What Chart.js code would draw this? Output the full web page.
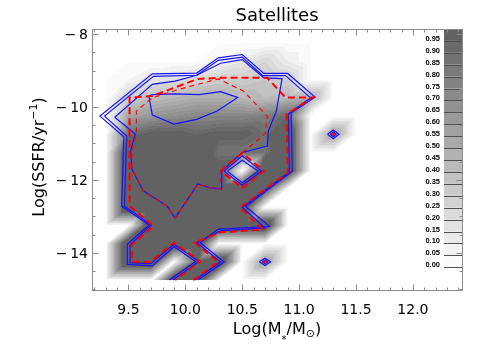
<!DOCTYPE html>
<html>
<head>
<meta charset="utf-8">
<script src="https://cdn.jsdelivr.net/npm/chart.js@4.4.1/dist/chart.umd.min.js"></script>
<style>
html, body { margin: 0; padding: 0; background: #fff; }
#wrap { width: 491px; height: 350px; }
</style>
</head>
<body>
<div id="wrap"><canvas id="myChart" width="491" height="350"></canvas></div>
<script>
// Nodos de la rejilla (masa en x, SSFR en y; fila 0 = arriba)
const massNodes = [9.1, 9.3, 9.5, 9.7, 9.9, 10.1, 10.3, 10.5, 10.7, 10.9, 11.1, 11.3, 11.5];
const ssfrNodes = [-8.25, -8.75, -9.25, -9.75, -10.25, -10.75, -11.25, -11.75, -12.25, -12.75, -13.25, -13.75, -14.25, -14.75];
const fraction = [
  [0, 0, 0,    0,    0,    0,    0,    0,    0,    0,    0,   0,   0],
  [0, 0, 0,    0,    0,    0,    0.05, 0.15, 0.25, 0.1,  0,   0,   0],
  [0, 0, 0.05, 0.15, 0.2,  0.25, 0.3,  0.3,  0.35, 0.3,  0,   0,   0],
  [0, 0, 0.3,  0.4,  0.45, 0.5,  0.5,  0.45, 0.4,  0.45, 0.5, 0,   0],
  [0, 0, 0.55, 0.65, 0.7,  0.75, 0.75, 0.75, 0.8,  0.95, 0,   0,   0],
  [0, 0, 0.9,  1.0,  1.0,  0.95, 1.0,  1.0,  0.9,  1.3,  0,   0.6, 0],
  [0, 0, 1.3,  1.3,  1.3,  1.3,  0.85, 0.85, 0.85, 1.3,  0,   0,   0],
  [0, 0, 1.3,  1.3,  1.3,  1.3,  1.1,  0,    1.3,  1.3,  0,   0,   0],
  [0, 0, 1.3,  1.3,  1.3,  1.3,  1.3,  1.3,  1.1,  0,    0,   0,   0],
  [0, 0, 1.3,  1.3,  1.3,  1.3,  1.3,  1.3,  0,    0,    0,   0,   0],
  [0, 0, 0,    1.3,  1.3,  1.3,  1.3,  1.3,  1.3,  0,    0,   0,   0],
  [0, 0, 1.3,  1.3,  1.3,  1.3,  0,    0,    0,    0,    0,   0,   0],
  [0, 0, 1.3,  1.3,  0,    1.0,  1.3,  0,    0.6,  0,    0,   0,   0],
  [0, 0, 0,    0,    1.3,  1.3,  0,    0,    0,    0,    0,   0,   0]
];

// Niveles de la barra de color
const levels = [0.00, 0.05, 0.10, 0.15, 0.20, 0.25, 0.30, 0.35, 0.40, 0.45, 0.50, 0.55, 0.60, 0.65, 0.70, 0.75, 0.80, 0.85, 0.90, 0.95];
const levelLabels = ['0.00', '0.05', '0.10', '0.15', '0.20', '0.25', '0.30', '0.35', '0.40', '0.45', '0.50', '0.55', '0.60', '0.65', '0.70', '0.75', '0.80', '0.85', '0.90', '0.95'];

// Ejes
const xTickValues = [9.5, 10.0, 10.5, 11.0, 11.5, 12.0];
const xTickLabels = ['9.5', '10.0', '10.5', '11.0', '11.5', '12.0'];
const yTickValues = [-14, -12, -10, -8];
const yTickLabels = ['\u2212\u200914', '\u2212\u200912', '\u2212\u200910', '\u2212\u20098'];

// Contornos azules
const blueOuter = [[10.11,-14.75],[10.34,-14.25],[10.13,-13.72],[10.29,-13.35],[10.74,-13.28],[10.53,-12.73],[10.94,-11.76],[10.93,-10.16],[11.14,-9.73],[10.90,-9.08],[10.69,-9.08],[10.50,-8.56],[10.29,-8.65],[10.10,-9.07],[9.71,-9.09],[9.25,-10.25],[9.46,-10.82],[9.44,-12.72],[9.68,-13.24],[9.49,-13.77],[9.49,-14.32],[9.71,-14.36],[9.90,-13.83],[10.09,-14.24],[9.86,-14.75]];
const blueOuter2 = [[10.085,-14.75],[10.31,-14.25],[10.10,-13.72],[10.31,-13.40],[10.70,-13.32],[10.50,-12.75],[10.915,-11.78],[10.905,-10.19],[11.10,-9.75],[10.88,-9.14],[10.68,-9.14],[10.50,-8.63],[10.29,-8.72],[10.10,-9.13],[9.72,-9.16],[9.29,-10.25],[9.485,-10.80],[9.465,-12.72],[9.70,-13.24],[9.515,-13.78],[9.515,-14.27],[9.695,-14.30],[9.90,-13.77],[10.12,-14.24],[9.89,-14.75]];
const blueMiddle = [[9.38,-10.28],[9.71,-9.38],[9.91,-9.29],[10.10,-9.13],[10.31,-8.80],[10.50,-8.70],[10.69,-9.20],[10.85,-9.22],[10.80,-10.11],[10.73,-10.66],[10.72,-11.07],[10.50,-11.25],[10.32,-11.76],[10.32,-12.25],[10.22,-12.22],[10.11,-12.11],[9.91,-13.05],[9.84,-12.72],[9.63,-12.30],[9.53,-11.70],[9.52,-11.20],[9.56,-10.74],[9.38,-10.28]];
const blueInner = [[9.68,-9.70],[9.71,-10.22],[9.90,-10.47],[10.10,-10.34],[10.28,-10.11],[10.46,-9.74],[10.31,-9.58],[10.12,-9.66],[9.91,-9.64],[9.71,-9.66],[9.68,-9.70]];
const blueHole = [[10.34,-11.76],[10.50,-11.34],[10.67,-11.76],[10.50,-12.15],[10.34,-11.76]];
const blueHole2 = [[10.37,-11.76],[10.50,-11.46],[10.64,-11.76],[10.50,-12.08],[10.37,-11.76]];
const blueSpotA = [[11.25,-10.75],[11.30,-10.63],[11.35,-10.75],[11.30,-10.87],[11.25,-10.75]];
const blueSpotA2 = [[11.275,-10.75],[11.30,-10.68],[11.325,-10.75],[11.30,-10.82],[11.275,-10.75]];
const blueSpotB = [[10.65,-14.25],[10.70,-14.15],[10.75,-14.25],[10.70,-14.35],[10.65,-14.25]];
const blueSpotB2 = [[10.675,-14.25],[10.70,-14.20],[10.725,-14.25],[10.70,-14.30],[10.675,-14.25]];

// Contornos rojos
const redOuter = [[10.07,-14.75],[10.29,-14.25],[10.08,-13.72],[10.31,-13.44],[10.68,-13.36],[10.48,-12.76],[10.90,-11.80],[10.89,-10.20],[11.12,-9.74],[10.88,-9.74],[10.72,-9.20],[10.31,-9.20],[10.11,-9.23],[9.71,-9.70],[9.51,-9.74],[9.51,-12.72],[9.72,-13.26],[9.53,-13.78],[9.53,-14.24],[9.69,-14.26],[9.90,-13.72],[10.13,-14.24],[9.91,-14.75]];
const redHole = [[10.31,-11.76],[10.50,-11.26],[10.69,-11.76],[10.50,-12.22],[10.31,-11.76]];
const redInner = [[10.50,-11.26],[10.70,-10.74],[10.72,-10.25],[10.51,-9.56],[10.29,-9.23],[9.95,-9.51],[9.71,-9.75],[9.57,-10.11],[9.57,-10.74],[9.53,-11.20],[9.53,-11.70],[9.63,-12.30],[9.84,-12.72],[9.91,-13.05],[10.11,-12.11],[10.22,-12.22],[10.31,-12.25],[10.31,-11.76]];
const redSpots = [[11.30,-10.75],[10.70,-14.25]];

const FONT = '"DejaVu Sans", sans-serif';
const BLUE = '#1414ff';
const RED = '#ff0000';

function grayFor(level) {
    return Math.round(250 - level * 160);
}

// Interpolación lineal en triángulos (diagonal de abajo-izq a arriba-der)
function valueAt(xv, yv) {
    const dx = massNodes[1] - massNodes[0];
    const dy = ssfrNodes[0] - ssfrNodes[1];
    const ny = ssfrNodes.length;
    const fi = (xv - massNodes[0]) / dx;
    const fj = (yv - ssfrNodes[ny - 1]) / dy;
    if (fi < 0 || fj < 0 || fi > massNodes.length - 1 || fj > ny - 1) return null;
    const i = Math.min(Math.floor(fi), massNodes.length - 2);
    const j = Math.min(Math.floor(fj), ny - 2);
    const u = fi - i, v = fj - j;
    const rb = ny - 1 - j, rt = rb - 1;
    const v00 = fraction[rb][i], v10 = fraction[rb][i + 1];
    const v01 = fraction[rt][i], v11 = fraction[rt][i + 1];
    if (u >= v) return v00 + u * (v10 - v00) + v * (v11 - v10);
    return v00 + v * (v01 - v00) + u * (v11 - v01);
}

function linea(puntos, color, width, dash) {
    return {
        data: puntos.map(p => ({ x: p[0], y: p[1] })),
        showLine: true,
        borderColor: color,
        borderWidth: width,
        borderDash: dash || [],
        pointRadius: 0,
        fill: false,
        tension: 0
    };
}

// texto con partes (sub/superíndices), centrado en cx
function drawParts(ctx, parts, cx, by) {
    let total = 0;
    parts.forEach(p => { ctx.font = p.s + 'px ' + FONT; p.w = ctx.measureText(p.t).width; total += p.w; });
    let xx = cx - total / 2;
    ctx.textAlign = 'left';
    ctx.textBaseline = 'alphabetic';
    parts.forEach(p => {
        ctx.font = p.s + 'px ' + FONT;
        ctx.fillText(p.t, xx, by + (p.dy || 0));
        xx += p.w;
    });
}

const densidad = {
    id: 'densidad',
    beforeDatasetsDraw(chart) {
        const { ctx, chartArea: a, scales: { x, y } } = chart;
        const w = Math.round(a.right - a.left), h = Math.round(a.bottom - a.top);
        const off = document.createElement('canvas');
        off.width = w; off.height = h;
        const octx = off.getContext('2d');
        const img = octx.createImageData(w, h);
        for (let py = 0; py < h; py++) {
            const yv = y.getValueForPixel(a.top + py + 0.5);
            for (let px = 0; px < w; px++) {
                const xv = x.getValueForPixel(a.left + px + 0.5);
                const v = valueAt(xv, yv);
                if (v === null || v <= 0.002) continue;
                const band = Math.min(levels.length - 1, Math.floor(v / 0.05 + 1e-6));
                const g = grayFor(levels[band]);
                const k = (py * w + px) * 4;
                img.data[k] = g; img.data[k + 1] = g; img.data[k + 2] = g; img.data[k + 3] = 255;
            }
        }
        octx.putImageData(img, 0, 0);
        ctx.drawImage(off, a.left, a.top);
    }
};

const marco = {
    id: 'marco',
    afterDatasetsDraw(chart) {
        const { ctx, chartArea: a, scales: { x, y } } = chart;
        const L = Math.round(a.left) + 0.5, R = Math.round(a.right) - 0.5;
        const T = Math.round(a.top) + 0.5, B = Math.round(a.bottom) - 0.5;
        ctx.save();

        // barra de color
        const barR = Math.round(a.right), barL = barR - 19;
        const barTop = a.top, barBottom = a.top + 238.3;
        const bandH = (barBottom - barTop) / levels.length;
        levels.forEach((lv, k) => {
            ctx.fillStyle = 'rgb(' + grayFor(lv) + ',' + grayFor(lv) + ',' + grayFor(lv) + ')';
            const y0 = barBottom - (k + 1) * bandH;
            ctx.fillRect(barL, y0, barR - barL, bandH);
        });
        ctx.strokeStyle = '#505050';
        ctx.lineWidth = 1;
        ctx.fillStyle = '#000';
        ctx.font = 'bold 7.5px "Liberation Sans", sans-serif';
        ctx.textAlign = 'right';
        ctx.textBaseline = 'alphabetic';
        levels.forEach((lv, k) => {
            const ly = Math.round(barBottom - k * bandH) + 0.5;
            ctx.beginPath();
            ctx.moveTo(barL, ly);
            ctx.lineTo(barR, ly);
            ctx.stroke();
            ctx.fillText(levelLabels[k], barL - 4, ly - 0.5);
        });

        // marco y marcas
        ctx.strokeStyle = '#8c8c8c';
        ctx.lineWidth = 1;
        ctx.strokeRect(L, T, R - L, B - T);
        ctx.beginPath();
        for (let t = 92; t <= 124; t++) {
            const xv = t / 10;
            const px = Math.round(x.getPixelForValue(xv)) + 0.5;
            const len = (t % 5 === 0) ? 6 : 3;
            ctx.moveTo(px, B); ctx.lineTo(px, B - len);
            ctx.moveTo(px, T); ctx.lineTo(px, T + len);
        }
        for (let t = -30; t <= -16; t++) {
            const yv = t / 2;
            const py = Math.round(y.getPixelForValue(yv)) + 0.5;
            const len = (t % 4 === 0) ? 6 : 3;
            ctx.moveTo(L, py); ctx.lineTo(L + len, py);
            ctx.moveTo(R, py); ctx.lineTo(R - len, py);
        }
        ctx.stroke();

        // etiquetas de ejes
        ctx.fillStyle = '#000';
        ctx.font = '14px ' + FONT;
        ctx.textAlign = 'center';
        ctx.textBaseline = 'alphabetic';
        xTickValues.forEach((v, i) => {
            ctx.fillText(xTickLabels[i], x.getPixelForValue(v), 314);
        });
        ctx.textAlign = 'right';
        yTickValues.forEach((v, i) => {
            ctx.fillText(yTickLabels[i], 88, y.getPixelForValue(v) + 5);
        });

        // título
        ctx.font = '18px ' + FONT;
        ctx.textAlign = 'center';
        ctx.fillText('Satellites', 277, 20.5);

        // título eje x
        drawParts(ctx, [
            { t: 'Log(M', s: 16 },
            { t: '*', s: 10, dy: 9 },
            { t: '/M', s: 16 },
            { t: '\u2299', s: 11, dy: 3 },
            { t: ')', s: 16 }
        ], 277, 334);

        // título eje y
        ctx.translate(44, 157);
        ctx.rotate(-Math.PI / 2);
        drawParts(ctx, [
            { t: 'Log(SSFR/yr', s: 16 },
            { t: '\u22121', s: 11, dy: -7 },
            { t: ')', s: 16 }
        ], 0, 0);
        ctx.restore();
    }
};

const datasets = [
    linea(redOuter, RED, 2, [7, 4]),
    linea(redHole, RED, 2, [7, 4]),
    linea(redInner, RED, 1.2, [5, 4]),
    {
        data: redSpots.map(p => ({ x: p[0], y: p[1] })),
        showLine: false,
        pointStyle: 'rectRot',
        pointRadius: 1.6,
        pointBackgroundColor: RED,
        pointBorderColor: RED,
        pointBorderWidth: 1
    },
    linea(blueOuter, BLUE, 1.2),
    linea(blueOuter2, BLUE, 1.2),
    linea(blueMiddle, BLUE, 1.2),
    linea(blueInner, BLUE, 1.2),
    linea(blueHole, BLUE, 1.2),
    linea(blueHole2, BLUE, 1.2),
    linea(blueSpotA, BLUE, 1.2),
    linea(blueSpotA2, BLUE, 1.2),
    linea(blueSpotB, BLUE, 1.2),
    linea(blueSpotB2, BLUE, 1.2)
];

const ctx = document.getElementById('myChart').getContext('2d');
const myChart = new Chart(ctx, {
    type: 'scatter',
    data: { datasets: datasets },
    options: {
        responsive: false,
        animation: false,
        events: [],
        layout: { padding: { left: 92, top: 29, right: 28, bottom: 59 } },
        scales: {
            x: { type: 'linear', display: false, min: 9.18, max: 12.44 },
            y: { type: 'linear', display: false, min: -15.05, max: -7.86 }
        },
        plugins: { legend: { display: false }, tooltip: { enabled: false } }
    },
    plugins: [densidad, marco]
});
</script>
</body>
</html>
